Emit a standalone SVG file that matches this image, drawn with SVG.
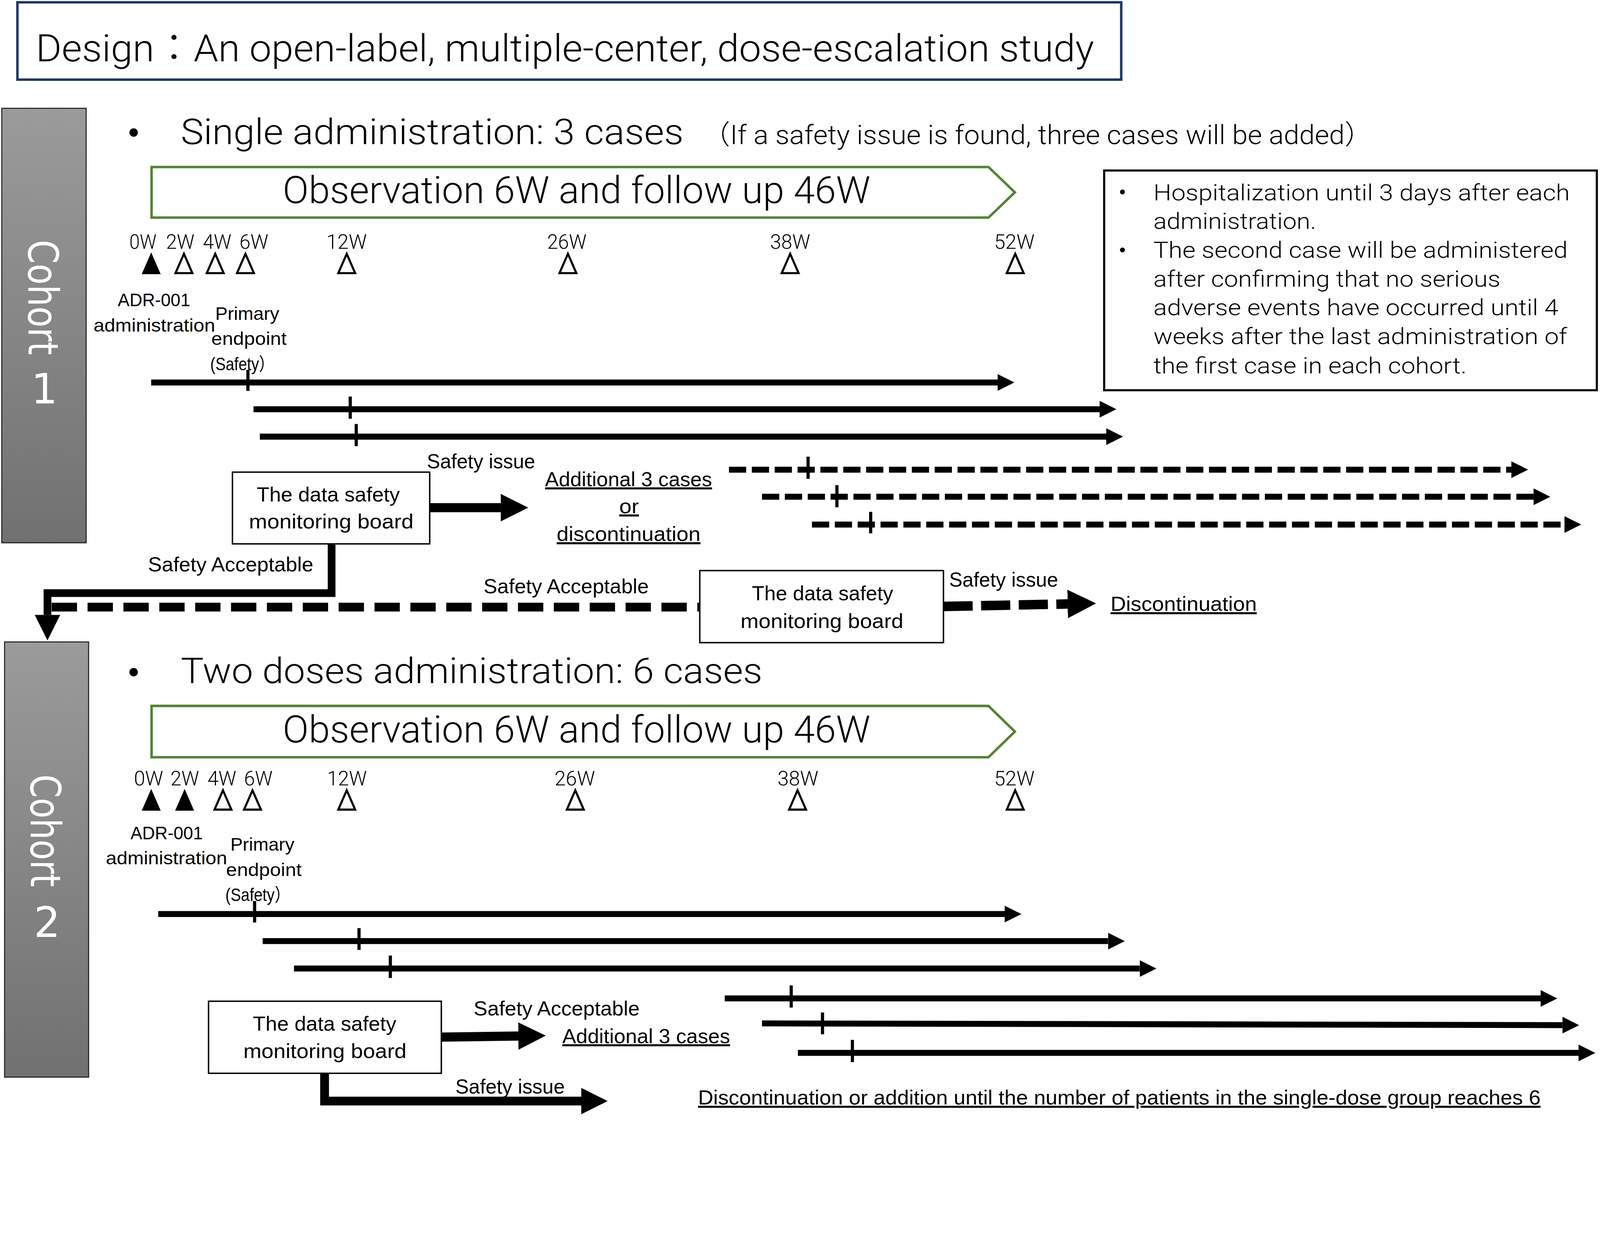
<svg xmlns="http://www.w3.org/2000/svg" width="4550" height="3175" viewBox="0 0 4550 3175" style="width:100vw;height:auto">
<style>
.big{font-family:Roboto,Lato,"Liberation Sans","Noto Sans CJK JP",sans-serif;font-weight:300;fill:#000}
.lbl{font-family:"Liberation Sans","Noto Sans CJK JP",sans-serif;font-size:58px;fill:#000}
.adr{font-family:"Liberation Sans","Noto Sans CJK JP",sans-serif;font-size:51px;fill:#000}
.wk{font-family:Roboto,Lato,"Liberation Sans",sans-serif;font-weight:300;font-size:58px;fill:#000}
.note{font-family:Roboto,Lato,"Liberation Sans",sans-serif;font-weight:300;font-size:64px;fill:#000}
.coh{font-family:"DejaVu Sans",sans-serif;font-size:118px;fill:#fff}
.box{fill:#fff;stroke:#000;stroke-width:4}
.obs{fill:#fff;stroke:#548235;stroke-width:7}
.tri{fill:#000}
.otri{fill:#fff;stroke:#000;stroke-width:6;stroke-linejoin:miter}
.tl{stroke:#000;stroke-width:17;fill:none}
.tick{stroke:#000;stroke-width:9}
.dsh{stroke-dasharray:49 16}
.thick{stroke:#000;fill:none;stroke-linejoin:miter}
</style>
<defs>
<linearGradient id="gbar" x1="0" y1="0" x2="0" y2="1">
<stop offset="0" stop-color="#9b9b9b"/>
<stop offset="1" stop-color="#717171"/>
</linearGradient>
<marker id="ah" viewBox="0 0 10 10" refX="0" refY="5" markerWidth="2.8" markerHeight="2.8" orient="auto" markerUnits="strokeWidth"><path d="M0,0 L10,5 L0,10 z" fill="#000"/></marker>
<marker id="ahL" viewBox="0 0 10 10" refX="0" refY="5" markerWidth="3" markerHeight="3" orient="auto" markerUnits="strokeWidth"><path d="M0,0 L10,5 L0,10 z" fill="#000"/></marker>
<marker id="ahD" viewBox="0 0 10 10" refX="0" refY="5" markerWidth="3.3" markerHeight="3.3" orient="auto" markerUnits="strokeWidth"><path d="M0,0 L10,5 L0,10 z" fill="#000"/></marker>
</defs>
<rect width="4550" height="3175" fill="#fff"/>

<g id="title">
<rect x="49.5" y="6.5" width="3139" height="220" fill="#fff" stroke="#1F3864" stroke-width="7"/>
<text class="big" x="102" y="174" font-size="108" textLength="3009" lengthAdjust="spacingAndGlyphs">Design：An open-label, multiple-center, dose-escalation study</text>
</g>

<g id="cohort1">
<rect x="5" y="308" width="240" height="1236" fill="url(#gbar)" stroke="#222" stroke-width="3"/>
<text class="coh" transform="translate(81,682) rotate(90)" textLength="328" lengthAdjust="spacingAndGlyphs">Cohort</text>
<text class="coh" x="126" y="1148" font-size="100" text-anchor="middle">1</text>
</g>

<g id="cohort2">
<rect x="13" y="1826" width="239" height="1238" fill="url(#gbar)" stroke="#222" stroke-width="3"/>
<text class="coh" transform="translate(88,2203) rotate(90)" textLength="320" lengthAdjust="spacingAndGlyphs">Cohort</text>
<text class="coh" x="134" y="2665" font-size="100" text-anchor="middle">2</text>
</g>

<g id="bullet1">
<circle cx="380" cy="377" r="12" fill="#000"/>
<text class="big" x="514" y="410" font-size="100" textLength="1430" lengthAdjust="spacingAndGlyphs">Single administration: 3 cases</text>
<text class="big" x="1997" y="410" font-size="76" textLength="1906" lengthAdjust="spacingAndGlyphs">（If a safety issue is found, three cases will be added）</text>
</g>

<g id="observation1">
<polygon class="obs" points="431,475 2811,475 2886,547 2811,619 431,619"/>
<text class="big" x="804" y="578" font-size="107" textLength="1671" lengthAdjust="spacingAndGlyphs">Observation 6W and follow up 46W</text>
</g>

<g id="weeks1">
<text class="wk" x="368" y="708" textLength="77" lengthAdjust="spacingAndGlyphs">0W</text>
<text class="wk" x="472" y="708" textLength="81" lengthAdjust="spacingAndGlyphs">2W</text>
<text class="wk" x="577" y="708" textLength="81" lengthAdjust="spacingAndGlyphs">4W</text>
<text class="wk" x="681" y="708" textLength="82" lengthAdjust="spacingAndGlyphs">6W</text>
<text class="wk" x="928" y="708" textLength="115" lengthAdjust="spacingAndGlyphs">12W</text>
<text class="wk" x="1556" y="708" textLength="112" lengthAdjust="spacingAndGlyphs">26W</text>
<text class="wk" x="2190" y="708" textLength="114" lengthAdjust="spacingAndGlyphs">38W</text>
<text class="wk" x="2827" y="708" textLength="115" lengthAdjust="spacingAndGlyphs">52W</text>
<polygon class="tri" points="430,718 457,780 403,780"/>
<polygon class="otri" points="523,722 547,777 499,777"/>
<polygon class="otri" points="612,722 636,777 588,777"/>
<polygon class="otri" points="698,722 722,777 674,777"/>
<polygon class="otri" points="986,722 1010,777 962,777"/>
<polygon class="otri" points="1615,722 1639,777 1591,777"/>
<polygon class="otri" points="2247,722 2271,777 2223,777"/>
<polygon class="otri" points="2887,722 2911,777 2863,777"/>
</g>

<g id="labels1">
<text class="adr" x="335" y="871" textLength="206" lengthAdjust="spacingAndGlyphs">ADR-001</text>
<text class="adr" x="266" y="943" textLength="346" lengthAdjust="spacingAndGlyphs">administration</text>
<text class="adr" x="612" y="910" textLength="182" lengthAdjust="spacingAndGlyphs">Primary</text>
<text class="adr" x="601" y="981" textLength="214" lengthAdjust="spacingAndGlyphs">endpoint</text>
<text class="adr" x="598" y="1053" textLength="182" lengthAdjust="spacingAndGlyphs">(Safety）</text>
</g>

<g id="notes">
<rect x="3140" y="485" width="1401" height="625" fill="#fff" stroke="#000" stroke-width="6"/>
<circle cx="3192" cy="546" r="7" fill="#000"/>
<circle cx="3192" cy="711" r="7" fill="#000"/>
<text class="note" x="3280" y="570" textLength="1184" lengthAdjust="spacingAndGlyphs">Hospitalization until 3 days after each</text>
<text class="note" x="3280" y="651" textLength="463" lengthAdjust="spacingAndGlyphs">administration.</text>
<text class="note" x="3280" y="733" textLength="1178" lengthAdjust="spacingAndGlyphs">The second case will be administered</text>
<text class="note" x="3280" y="815" textLength="987" lengthAdjust="spacingAndGlyphs">after confirming that no serious</text>
<text class="note" x="3280" y="896" textLength="1152" lengthAdjust="spacingAndGlyphs">adverse events have occurred until 4</text>
<text class="note" x="3280" y="979" textLength="1177" lengthAdjust="spacingAndGlyphs">weeks after the last administration of</text>
<text class="note" x="3280" y="1062" textLength="891" lengthAdjust="spacingAndGlyphs">the first case in each cohort.</text>
</g>

<g id="dsmb1">
<rect class="box" x="661" y="1343" width="561" height="204"/>
<text class="lbl" x="730" y="1426" textLength="407" lengthAdjust="spacingAndGlyphs">The data safety</text>
<text class="lbl" x="708" y="1503" textLength="468" lengthAdjust="spacingAndGlyphs">monitoring board</text>
</g>

<g id="outcome1">
<text class="lbl" x="1214" y="1332" textLength="308" lengthAdjust="spacingAndGlyphs">Safety issue</text>
<text class="lbl" x="1550" y="1383" textLength="475" lengthAdjust="spacingAndGlyphs" text-decoration="underline">Additional 3 cases</text>
<text class="lbl" x="1761" y="1460" textLength="56" lengthAdjust="spacingAndGlyphs" text-decoration="underline">or</text>
<text class="lbl" x="1583" y="1539" textLength="409" lengthAdjust="spacingAndGlyphs" text-decoration="underline">discontinuation</text>
<text class="lbl" x="421" y="1625" textLength="470" lengthAdjust="spacingAndGlyphs">Safety Acceptable</text>
<text class="lbl" x="1375" y="1687" textLength="470" lengthAdjust="spacingAndGlyphs">Safety Acceptable</text>
</g>

<g id="dsmb2">
<rect class="box" x="1990" y="1623" width="693" height="205"/>
<text class="lbl" x="2138" y="1707" textLength="402" lengthAdjust="spacingAndGlyphs">The data safety</text>
<text class="lbl" x="2106" y="1786" textLength="463" lengthAdjust="spacingAndGlyphs">monitoring board</text>
</g>

<g id="outcome2">
<text class="lbl" x="2699" y="1669" textLength="310" lengthAdjust="spacingAndGlyphs">Safety issue</text>
<text class="lbl" x="3158" y="1738" textLength="416" lengthAdjust="spacingAndGlyphs" text-decoration="underline">Discontinuation</text>
</g>

<g id="bullet2">
<circle cx="380" cy="1912" r="12" fill="#000"/>
<text class="big" x="514" y="1943" font-size="100" textLength="1654" lengthAdjust="spacingAndGlyphs">Two doses administration: 6 cases</text>
</g>

<g id="observation2">
<polygon class="obs" points="431,2008 2811,2008 2886,2081 2811,2154 431,2154"/>
<text class="big" x="804" y="2112" font-size="107" textLength="1671" lengthAdjust="spacingAndGlyphs">Observation 6W and follow up 46W</text>
</g>

<g id="weeks2">
<text class="wk" x="381" y="2234" textLength="83" lengthAdjust="spacingAndGlyphs">0W</text>
<text class="wk" x="485" y="2234" textLength="81" lengthAdjust="spacingAndGlyphs">2W</text>
<text class="wk" x="590" y="2234" textLength="82" lengthAdjust="spacingAndGlyphs">4W</text>
<text class="wk" x="694" y="2234" textLength="81" lengthAdjust="spacingAndGlyphs">6W</text>
<text class="wk" x="930" y="2234" textLength="113" lengthAdjust="spacingAndGlyphs">12W</text>
<text class="wk" x="1577" y="2234" textLength="115" lengthAdjust="spacingAndGlyphs">26W</text>
<text class="wk" x="2211" y="2234" textLength="116" lengthAdjust="spacingAndGlyphs">38W</text>
<text class="wk" x="2827" y="2234" textLength="115" lengthAdjust="spacingAndGlyphs">52W</text>
<polygon class="tri" points="430,2244 457,2306 403,2306"/>
<polygon class="tri" points="525,2244 552,2306 498,2306"/>
<polygon class="otri" points="634,2248 658,2303 610,2303"/>
<polygon class="otri" points="718,2248 742,2303 694,2303"/>
<polygon class="otri" points="986,2248 1010,2303 962,2303"/>
<polygon class="otri" points="1636,2248 1660,2303 1612,2303"/>
<polygon class="otri" points="2268,2248 2292,2303 2244,2303"/>
<polygon class="otri" points="2887,2248 2911,2303 2863,2303"/>
</g>

<g id="labels2">
<text class="adr" x="371" y="2387" textLength="206" lengthAdjust="spacingAndGlyphs">ADR-001</text>
<text class="adr" x="301" y="2459" textLength="345" lengthAdjust="spacingAndGlyphs">administration</text>
<text class="adr" x="655" y="2420" textLength="182" lengthAdjust="spacingAndGlyphs">Primary</text>
<text class="adr" x="643" y="2492" textLength="215" lengthAdjust="spacingAndGlyphs">endpoint</text>
<text class="adr" x="641" y="2563" textLength="184" lengthAdjust="spacingAndGlyphs">(Safety）</text>
</g>

<g id="dsmb3">
<rect class="box" x="593" y="2848" width="662" height="205"/>
<text class="lbl" x="719" y="2932" textLength="408" lengthAdjust="spacingAndGlyphs">The data safety</text>
<text class="lbl" x="692" y="3009" textLength="464" lengthAdjust="spacingAndGlyphs">monitoring board</text>
</g>

<g id="outcome3">
<text class="lbl" x="1347" y="2888" textLength="472" lengthAdjust="spacingAndGlyphs">Safety Acceptable</text>
<text class="lbl" x="1599" y="2967" textLength="477" lengthAdjust="spacingAndGlyphs" text-decoration="underline">Additional 3 cases</text>
<text class="lbl" x="1295" y="3111" textLength="311" lengthAdjust="spacingAndGlyphs">Safety issue</text>
<text class="lbl" x="1985" y="3142" textLength="2396" lengthAdjust="spacingAndGlyphs" text-decoration="underline">Discontinuation or addition until the number of patients in the single-dose group reaches 6</text>
</g>

<g id="connectors">
<line class="tl" x1="430" y1="1088" x2="2837" y2="1088" marker-end="url(#ah)"/>
<line class="tick" x1="705" y1="1052" x2="705" y2="1112"/>
<line class="tl" x1="721" y1="1164" x2="3127" y2="1164" marker-end="url(#ah)"/>
<line class="tick" x1="996" y1="1128" x2="996" y2="1191"/>
<line class="tl" x1="739" y1="1242" x2="3146" y2="1242" marker-end="url(#ah)"/>
<line class="tick" x1="1013" y1="1206" x2="1013" y2="1269"/>
<line class="tl dsh" x1="2073" y1="1336" x2="4298" y2="1336" marker-end="url(#ah)"/>
<line class="tick" x1="2298" y1="1299" x2="2298" y2="1362"/>
<line class="tl dsh" x1="2167" y1="1413" x2="4361" y2="1413" marker-end="url(#ah)"/>
<line class="tick" x1="2380" y1="1380" x2="2380" y2="1443"/>
<line class="tl dsh" x1="2309" y1="1492" x2="4449" y2="1492" marker-end="url(#ah)"/>
<line class="tick" x1="2476" y1="1456" x2="2476" y2="1517"/>
<line class="thick" x1="1222" y1="1444" x2="1424" y2="1444" stroke-width="26" marker-end="url(#ahL)"/>
<path class="thick" d="M943,1547 V1687 H135 V1749" stroke-width="22" marker-end="url(#ahD)"/>
<line class="thick" x1="147" y1="1727" x2="1990" y2="1727" stroke-width="25" stroke-dasharray="72 30"/>
<line class="thick" x1="2683" y1="1725" x2="3036" y2="1718" stroke-width="27" stroke-dasharray="83 24" marker-end="url(#ahL)"/>
<line class="tl" x1="450" y1="2600" x2="2857" y2="2600" marker-end="url(#ah)"/>
<line class="tick" x1="724" y1="2563" x2="724" y2="2624"/>
<line class="tl" x1="747" y1="2677" x2="3151" y2="2677" marker-end="url(#ah)"/>
<line class="tick" x1="1021" y1="2640" x2="1021" y2="2702"/>
<line class="tl" x1="836" y1="2755" x2="3241" y2="2755" marker-end="url(#ah)"/>
<line class="tick" x1="1110" y1="2718" x2="1110" y2="2782"/>
<line class="tl" x1="2061" y1="2840" x2="4381" y2="2840" marker-end="url(#ah)"/>
<line class="tick" x1="2250" y1="2803" x2="2250" y2="2866"/>
<line class="tl" x1="2167" y1="2911" x2="4443" y2="2916" marker-end="url(#ah)"/>
<line class="tick" x1="2339" y1="2880" x2="2339" y2="2942"/>
<line class="tl" x1="2269" y1="2995" x2="4489" y2="2995" marker-end="url(#ah)"/>
<line class="tick" x1="2424" y1="2958" x2="2424" y2="3021"/>
<line class="thick" x1="1255" y1="2950" x2="1474" y2="2947" stroke-width="26" marker-end="url(#ahL)"/>
<path class="thick" d="M923,3053 V3132 H1653" stroke-width="25" marker-end="url(#ahL)"/>
</g>
</svg>
